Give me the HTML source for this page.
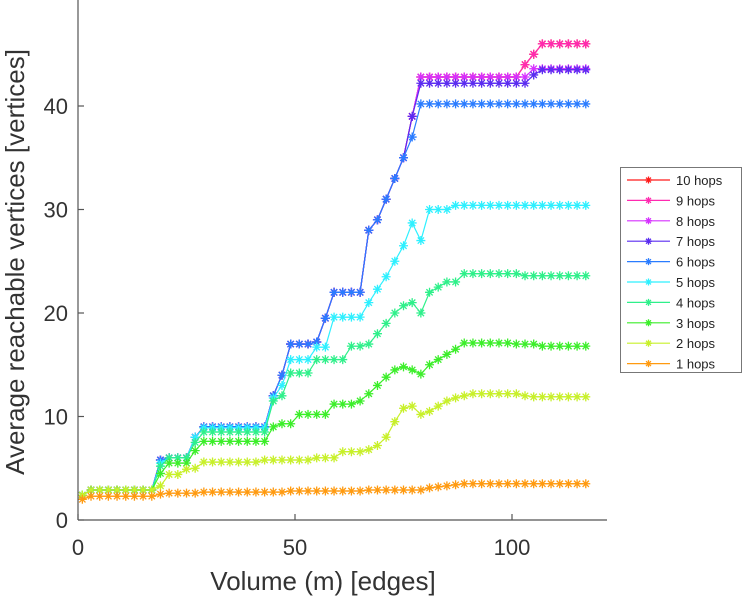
<!DOCTYPE html>
<html><head><meta charset="utf-8"><style>
html,body{margin:0;padding:0;background:#fff;}
svg{display:block;font-family:"Liberation Sans",sans-serif;}
</style></head><body>
<svg id="chart" width="743" height="600">
  <g id="series-layer"></g>
  <line x1="78" y1="0" x2="78" y2="520" stroke="#555" stroke-width="1.2"/>
  <line x1="78" y1="520" x2="607" y2="520" stroke="#555" stroke-width="1.2"/>
  <g id="ticks"></g>
  <text x="323" y="590" font-size="26" fill="#333" text-anchor="middle">Volume (m) [edges]</text>
  <text transform="translate(24,262) rotate(-90)" font-size="26" fill="#333" text-anchor="middle">Average reachable vertices [vertices]</text>
  <g id="legend">
    <rect x="620.5" y="167.5" width="121" height="205" fill="#fff" stroke="#777" stroke-width="1"/>
  </g>
</svg>
<script>
const xs=[1,3,5,7,9,11,13,15,17,19,21,23,25,27,29,31,33,35,37,39,41,43,45,47,49,51,53,55,57,59,61,63,65,67,69,71,73,75,77,79,81,83,85,87,89,91,93,95,97,99,101,103,105,107,109,111,113,115,117];
const hop1=[2.0,2.3,2.3,2.3,2.3,2.3,2.3,2.3,2.3,2.5,2.6,2.6,2.6,2.6,2.7,2.7,2.7,2.7,2.7,2.7,2.7,2.7,2.7,2.7,2.8,2.8,2.8,2.8,2.8,2.8,2.8,2.8,2.8,2.9,2.9,2.9,2.9,2.9,2.9,2.9,3.1,3.2,3.3,3.4,3.5,3.5,3.5,3.5,3.5,3.5,3.5,3.5,3.5,3.5,3.5,3.5,3.5,3.5,3.5];
const hop2=[2.4,2.9,2.9,2.9,2.9,2.9,2.9,2.9,2.9,3.3,4.4,4.4,4.9,5.0,5.6,5.6,5.6,5.6,5.6,5.6,5.6,5.8,5.8,5.8,5.8,5.8,5.8,6.0,6.0,6.0,6.6,6.6,6.6,6.8,7.2,8.0,9.5,10.8,11.0,10.2,10.5,11.0,11.5,11.8,12.0,12.2,12.2,12.2,12.2,12.2,12.2,12.0,11.9,11.9,11.9,11.9,11.9,11.9,11.9];
const hop3=[2.4,2.9,2.9,2.9,2.9,2.9,2.9,2.9,2.9,4.5,5.5,5.5,5.5,6.7,7.6,7.6,7.6,7.6,7.6,7.6,7.6,7.6,9.0,9.3,9.3,10.2,10.2,10.2,10.2,11.2,11.2,11.2,11.5,12.2,13.0,13.8,14.5,14.8,14.5,14.1,15.0,15.5,16.0,16.5,17.1,17.1,17.1,17.1,17.1,17.1,17.0,17.0,17.0,16.8,16.8,16.8,16.8,16.8,16.8];
const hop4=[2.4,2.9,2.9,2.9,2.9,2.9,2.9,2.9,2.9,5.2,6.0,6.0,6.0,7.5,8.5,8.5,8.5,8.5,8.5,8.5,8.5,8.5,11.5,12.0,14.2,14.2,14.2,15.5,15.5,15.5,15.5,16.8,16.8,17.0,18.0,19.0,20.0,20.7,21.0,20.0,22.0,22.5,23.0,23.0,23.8,23.8,23.8,23.8,23.8,23.8,23.8,23.6,23.6,23.6,23.6,23.6,23.6,23.6,23.6];
const hop5=[2.4,2.9,2.9,2.9,2.9,2.9,2.9,2.9,2.9,5.5,6.0,6.0,6.0,8.0,8.9,8.9,8.9,8.9,8.9,8.9,8.9,8.9,11.8,13.0,15.5,15.5,15.5,16.7,16.7,19.6,19.6,19.6,19.6,21.0,22.3,23.5,25.0,26.5,28.7,27.0,30.0,30.0,30.0,30.4,30.4,30.4,30.4,30.4,30.4,30.4,30.4,30.4,30.4,30.4,30.4,30.4,30.4,30.4,30.4];
const hop6=[2.4,2.9,2.9,2.9,2.9,2.9,2.9,2.9,2.9,5.8,6.0,6.0,6.0,8.0,9.0,9.0,9.0,9.0,9.0,9.0,9.0,9.0,12.0,14.0,17.0,17.0,17.0,17.2,19.5,22.0,22.0,22.0,22.0,28.0,29.0,31.0,33.0,35.0,37.0,40.2,40.2,40.2,40.2,40.2,40.2,40.2,40.2,40.2,40.2,40.2,40.2,40.2,40.2,40.2,40.2,40.2,40.2,40.2,40.2];
const hop7=[2.4,2.9,2.9,2.9,2.9,2.9,2.9,2.9,2.9,5.8,6.0,6.0,6.0,8.0,9.0,9.0,9.0,9.0,9.0,9.0,9.0,9.0,12.0,14.0,17.0,17.0,17.0,17.2,19.5,22.0,22.0,22.0,22.0,28.0,29.0,31.0,33.0,35.0,39.0,42.2,42.2,42.2,42.2,42.2,42.2,42.2,42.2,42.2,42.2,42.2,42.2,42.2,43.0,43.5,43.5,43.5,43.5,43.5,43.5];
const hop8=[2.4,2.9,2.9,2.9,2.9,2.9,2.9,2.9,2.9,5.8,6.0,6.0,6.0,8.0,9.0,9.0,9.0,9.0,9.0,9.0,9.0,9.0,12.0,14.0,17.0,17.0,17.0,17.2,19.5,22.0,22.0,22.0,22.0,28.0,29.0,31.0,33.0,35.0,39.0,42.8,42.8,42.8,42.8,42.8,42.8,42.8,42.8,42.8,42.8,42.8,42.8,42.8,43.6,43.6,43.6,43.6,43.6,43.6,43.6];
const hop9=[2.4,2.9,2.9,2.9,2.9,2.9,2.9,2.9,2.9,5.8,6.0,6.0,6.0,8.0,9.0,9.0,9.0,9.0,9.0,9.0,9.0,9.0,12.0,14.0,17.0,17.0,17.0,17.2,19.5,22.0,22.0,22.0,22.0,28.0,29.0,31.0,33.0,35.0,39.0,42.8,42.8,42.8,42.8,42.8,42.8,42.8,42.8,42.8,42.8,42.8,42.8,44.0,45.0,46.0,46.0,46.0,46.0,46.0,46.0];
const hop10=[2.4,2.9,2.9,2.9,2.9,2.9,2.9,2.9,2.9,5.8,6.0,6.0,6.0,8.0,9.0,9.0,9.0,9.0,9.0,9.0,9.0,9.0,12.0,14.0,17.0,17.0,17.0,17.2,19.5,22.0,22.0,22.0,22.0,28.0,29.0,31.0,33.0,35.0,39.0,42.8,42.8,42.8,42.8,42.8,42.8,42.8,42.8,42.8,42.8,42.8,42.8,44.0,45.0,46.0,46.0,46.0,46.0,46.0,46.0];
const seriesNames=["10 hops","9 hops","8 hops","7 hops","6 hops","5 hops","4 hops","3 hops","2 hops","1 hops"];
const seriesValues=[hop10,hop9,hop8,hop7,hop6,hop5,hop4,hop3,hop2,hop1];
const seriesColors=["#ff1a1a","#ff2ab0","#d630ff","#5a2cf0","#2a7cff","#2ef0ff","#2ef08a","#3cee2a","#c8f02a","#ff9a10"];
const xTicks=[0,50,100];
const yTicks=[0,10,20,30,40];

const NS="http://www.w3.org/2000/svg";
function sx(v){return 78+v*4.34;}
function sy(v){return 520-v*10.35;}
function mk(tag,attrs){const e=document.createElementNS(NS,tag);for(const k in attrs)e.setAttribute(k,attrs[k]);return e;}
function star(g,x,y,c,r){
  const d=`M${x-r},${y}L${x+r},${y}M${x},${y-r}L${x},${y+r}M${x-r*0.7},${y-r*0.7}L${x+r*0.7},${y+r*0.7}M${x-r*0.7},${y+r*0.7}L${x+r*0.7},${y-r*0.7}`;
  const p=mk('path',{d:d,stroke:c,'stroke-width':1.3,fill:'none'});
  
  
  g.appendChild(p);
}
const layer=document.getElementById('series-layer');
seriesValues.forEach((vals,si)=>{
  const g=mk('g',{});
  
  
  const pts=vals.map((v,i)=>sx(xs[i])+','+sy(v)).join(' ');
  const pl=mk('polyline',{points:pts,fill:'none',stroke:seriesColors[si],'stroke-width':1.2});
  
  
  g.appendChild(pl);
  vals.forEach((v,i)=>star(g,sx(xs[i]),sy(v),seriesColors[si],4.5));
  layer.appendChild(g);
});
const tg=document.getElementById('ticks');
xTicks.forEach(t=>{
  const l=mk('line',{x1:sx(t),y1:520,x2:sx(t),y2:514,stroke:'#555','stroke-width':1.2});
  
  
  tg.appendChild(l);
  const tx=mk('text',{x:sx(t),y:555,'font-size':22,fill:'#333','text-anchor':'middle'});
  tx.textContent=t;
  
  
  tg.appendChild(tx);
});
yTicks.forEach(t=>{
  const l=mk('line',{x1:78,y1:sy(t),x2:84,y2:sy(t),stroke:'#555','stroke-width':1.2});
  
  
  tg.appendChild(l);
  const tx=mk('text',{x:68,y:sy(t)+8,'font-size':22,fill:'#333','text-anchor':'end'});
  tx.textContent=t;
  
  
  tg.appendChild(tx);
});
const lg=document.getElementById('legend');
seriesNames.forEach((n,i)=>{
  const y=180+i*20.4;
  const g=mk('g',{});
  
  
  g.appendChild(mk('line',{x1:627,y1:y,x2:670,y2:y,stroke:seriesColors[i],'stroke-width':1.2}));
  star(g,648.5,y,seriesColors[i],3.5);
  const t=mk('text',{x:676,y:y+5,'font-size':13,fill:'#222'});
  t.textContent=n;
  g.appendChild(t);
  lg.appendChild(g);
});
</script>
</body></html>
